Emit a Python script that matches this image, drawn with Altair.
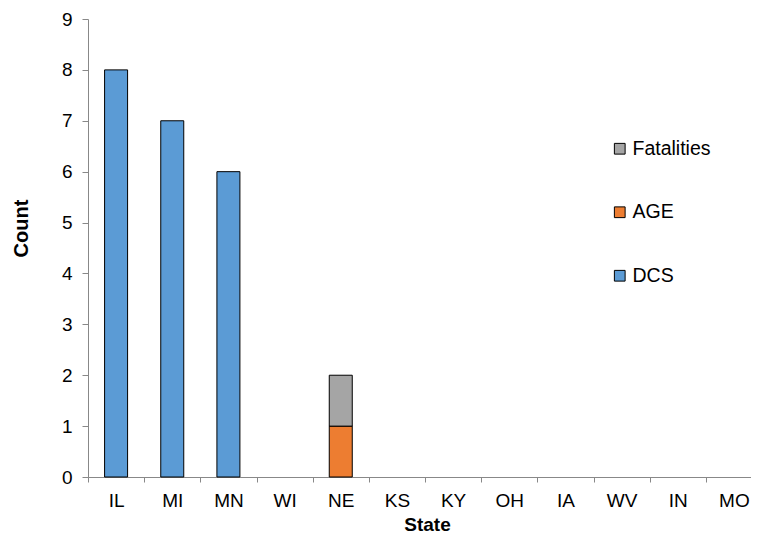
import altair as alt
import pandas as pd

states = ["IL", "MI", "MN", "WI", "NE", "KS", "KY", "OH", "IA", "WV", "IN", "MO"]
dcs = [8, 7, 6, 0, 0, 0, 0, 0, 0, 0, 0, 0]
age = [0, 0, 0, 0, 1, 0, 0, 0, 0, 0, 0, 0]
fatalities = [0, 0, 0, 0, 1, 0, 0, 0, 0, 0, 0, 0]
series = ["Fatalities", "AGE", "DCS"]
colors = ["#A5A5A5", "#ED7D31", "#5B9BD5"]

rows = []
for i, s in enumerate(states):
    for name, vals, order in [("DCS", dcs, 0), ("AGE", age, 1), ("Fatalities", fatalities, 2)]:
        rows.append({"State": s, "Series": name, "Count": vals[i], "ord": order})
df = pd.DataFrame(rows)
df = df[df["Count"] > 0]

font = "Liberation Sans"

chart = alt.Chart(df).mark_bar(size=23, stroke="black", strokeWidth=1).encode(
    x=alt.X("State:N", sort=states,
            scale=alt.Scale(domain=states, range=[0, 674], paddingInner=0, paddingOuter=0),
            axis=alt.Axis(title="State", labelAngle=0, tickBand="extent", grid=False,
                          domainColor="#888888", tickColor="#888888", tickSize=5,
                          labelFont=font, labelFontSize=19, labelColor="black", labelPadding=9,
                          titleFont=font, titleFontSize=19, titleFontWeight="bold",
                          titleColor="black", titleX=339, titleY=47, titleBaseline="middle")),
    y=alt.Y("Count:Q", stack="zero",
            scale=alt.Scale(domain=[0, 9], nice=False),
            axis=alt.Axis(title="Count", values=list(range(10)), grid=False,
                          domainColor="#888888", tickColor="#888888", tickSize=6,
                          labelFont=font, labelFontSize=19, labelColor="black", labelPadding=10,
                          titleFont=font, titleFontSize=20, titleFontWeight="bold",
                          titleColor="black", titleX=-67, titleY=209, titleAngle=270,
                          titleBaseline="middle", titleAlign="center")),
    color=alt.Color("Series:N", sort=series,
                    scale=alt.Scale(domain=series, range=colors),
                    legend=alt.Legend(title=None, orient="none", legendX=522, legendY=120,
                                      symbolType="square", symbolSize=115,
                                      symbolStrokeColor="black", symbolStrokeWidth=1,
                                      labelFont=font, labelFontSize=19.5, labelColor="black",
                                      rowPadding=42.5, labelOffset=3)),
    order=alt.Order("ord:Q"),
).properties(
    width=663, height=458,
    autosize=alt.AutoSizeParams(type="none"),
    padding={"left": 80, "top": 11, "right": 0, "bottom": 58},
).configure_view(stroke=None)

chart.save("out.html", embed_options={"renderer": "svg", "actions": False})
